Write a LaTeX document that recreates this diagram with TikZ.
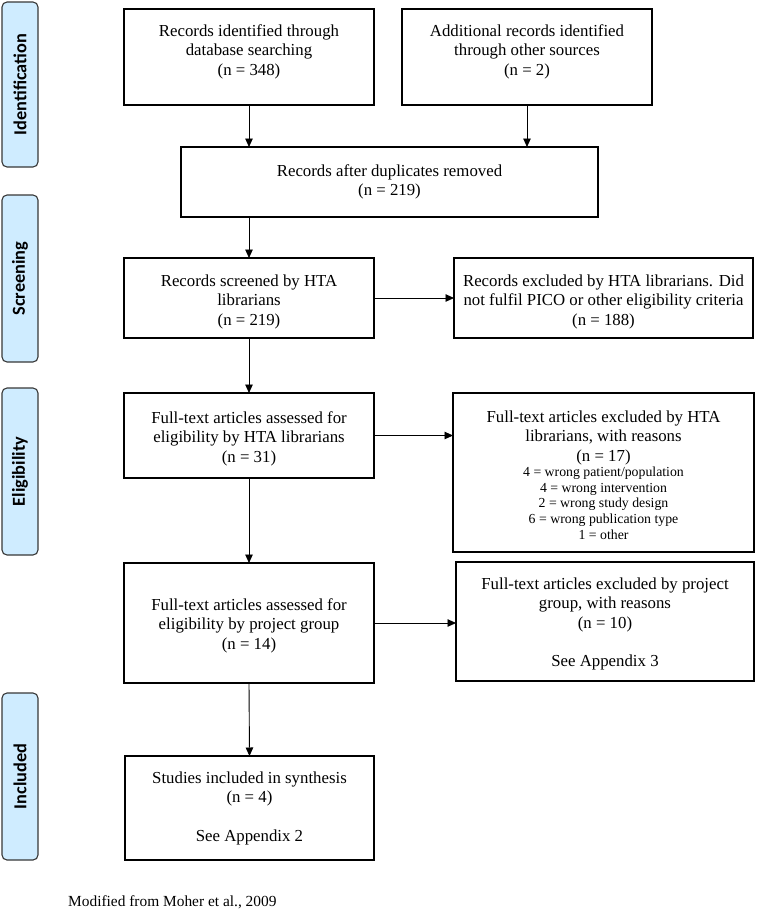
\documentclass[tikz,border=0pt]{standalone}
\usepackage{fontspec}
\setmainfont{Liberation Serif}
\newfontfamily\lblfont{Carlito}
\usetikzlibrary{arrows.meta}
\definecolor{sidefill}{RGB}{207,236,255}
\definecolor{sideline}{RGB}{55,55,55}
\newcommand\mainsz{\fontsize{16.8}{19.4}\selectfont}
\newcommand\smallsz{\fontsize{13.8}{15.8}\selectfont}
\newcommand\fs{\rule{0pt}{12pt}}
\newcommand\sfs{\rule{0pt}{10pt}}
\begin{document}
\begin{tikzpicture}[x=1pt,y=-1pt,
  box/.style={draw=black, line width=1.1pt, inner sep=0pt, outer sep=0pt, anchor=north west},
  side/.style={draw=sideline, fill=sidefill, rounded corners=5pt, line width=1.1pt, inner sep=0pt, outer sep=0pt, anchor=north west},
  sidetxt/.style={rotate=90, inner sep=0pt, font=\lblfont\bfseries\fontsize{18.3}{22}\selectfont},
  txt/.style={inner sep=0pt, align=center, font=\mainsz, anchor=north},
  smalltxt/.style={inner sep=0pt, align=center, font=\smallsz, anchor=north},
  arr/.style={-{Triangle[length=8.5pt,width=7.5pt]}, line width=0.9pt}]
\useasboundingbox (0,0) rectangle (767,911);

% side labels
\node[side, minimum width=36pt, minimum height=165pt] (s1) at (2,2) {};
\node[sidetxt] (l1) at (s1.center) {Identification};
\node[side, minimum width=36pt, minimum height=167pt] (s2) at (2,195) {};
\node[sidetxt] (l2) at (s2.center) {Screening};
\node[side, minimum width=36pt, minimum height=167pt] (s3) at (2,388) {};
\node[sidetxt] (l3) at (s3.center) {Eligibility};
\node[side, minimum width=36pt, minimum height=167pt] (s4) at (2,693) {};
\node[sidetxt] (l4) at (s4.center) {Included};

% boxes
\node[box, minimum width=250pt, minimum height=96pt] (b1) at (124,9) {};
\node[box, minimum width=250pt, minimum height=96pt] (b2) at (402,9) {};
\node[box, minimum width=417pt, minimum height=70pt] (b3) at (181,147) {};
\node[box, minimum width=250pt, minimum height=80pt] (b4) at (124,258) {};
\node[box, minimum width=299pt, minimum height=80pt] (b5) at (454,258) {};
\node[box, minimum width=250pt, minimum height=85pt] (b6) at (124,393) {};
\node[box, minimum width=301pt, minimum height=159pt] (b7) at (453,393) {};
\node[box, minimum width=250pt, minimum height=120pt] (b8) at (124,563) {};
\node[box, minimum width=298pt, minimum height=119pt] (b9) at (456,562) {};
\node[box, minimum width=249pt, minimum height=104pt] (b10) at (125,756) {};

% texts
\node[txt] (t1) at (249,24) {\fs Records identified through\\database searching\\(n = 348)};
\node[txt] (t2) at (527,24) {\fs Additional records identified\\through other sources\\(n = 2)};
\node[txt] (t3) at (389.5,164) {\fs Records after duplicates removed\\(n = 219)};
\node[txt] (t4) at (249,274) {\fs Records screened by HTA\\librarians\\(n = 219)};
\node[txt] (t5) at (603.5,274) {\fs Records excluded by HTA librarians. Did\\not fulfil PICO or other eligibility criteria\\(n = 188)};
\node[txt] (t6) at (249,411) {\fs Full-text articles assessed for\\eligibility by HTA librarians\\(n = 31)};
\node[txt] (t7) at (603.5,410) {\fs Full-text articles excluded by HTA\\librarians, with reasons\\(n = 17)};
\node[smalltxt] (t7b) at (603.5,466) {\sfs 4 = wrong patient/population\\4 = wrong intervention\\2 = wrong study design\\6 = wrong publication type\\1 = other};
\node[txt] (t8) at (249,598) {\fs Full-text articles assessed for\\eligibility by project group\\(n = 14)};
\node[txt] (t9) at (605,577) {\fs Full-text articles excluded by project\\group, with reasons\\(n = 10)\\[19.4pt]See Appendix 3};
\node[txt] (t10) at (249.5,771) {\fs Studies included in synthesis\\(n = 4)\\[19.4pt]See Appendix 2};
\node[anchor=base west, inner sep=0pt, font=\fontsize{15.4}{18}\selectfont] (cap) at (68,906) {Modified from Moher et al., 2009};

% connectors
\draw[arr] (b1.south) -- (b1.south |- b3.north);
\draw[arr] (b2.south) -- (b2.south |- b3.north);
\draw[arr] (b4.north |- b3.south) -- (b4.north);
\draw[arr] (b4.south) -- (b6.north);
\draw[arr] (b6.south) -- (b8.north);
\draw[arr] (b8.south) -- (b10.north);
\draw[arr] (b4.east) -- (b4.east -| b5.west);
\draw[arr] (b6.east) -- (b6.east -| b7.west);
\draw[arr] (b8.east) -- (b8.east -| b9.west);
\end{tikzpicture}
\end{document}
